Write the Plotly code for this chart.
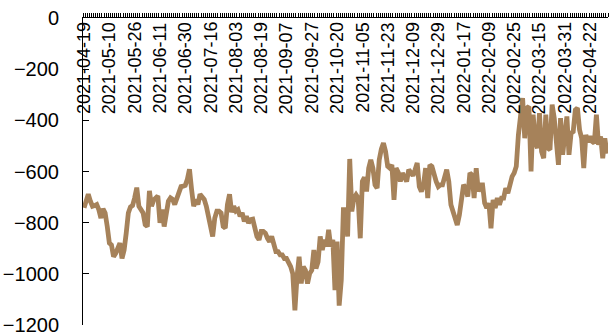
import pandas as pd
import plotly.graph_objects as go

# Trading calendar: weekdays minus exchange holidays and days without a quote
start_date = "2021-04-19"
end_date = "2022-05-09"
closed_days = [
    "2021-05-03", "2021-05-04", "2021-05-05", "2021-06-14",
    "2021-08-30", "2021-09-20", "2021-09-21",
    "2021-10-01", "2021-10-04", "2021-10-05", "2021-10-06", "2021-10-07",
    "2021-12-27", "2021-12-28", "2022-01-03",
    "2022-01-31", "2022-02-01", "2022-02-02", "2022-02-03", "2022-02-04",
    "2022-04-04", "2022-04-05", "2022-04-15", "2022-04-18",
    "2022-05-02", "2022-05-03", "2022-05-04",
]
dates = [d.strftime("%Y-%m-%d") for d in pd.bdate_range(start_date, end_date)
         if d.strftime("%Y-%m-%d") not in closed_days]

# Daily spread values
spread = [
    -742, -716, -689, -716, -736, -733, -729, -749, -782, -746,
    -762, -815, -880, -887, -933, -920, -900, -880, -940, -907,
    -841, -762, -739, -733, -703, -663, -736, -746, -762, -808,
    -815, -676, -736, -712, -703, -696, -801, -749, -815, -749,
    -716, -703, -709, -729, -703, -676, -659, -657, -654, -630,
    -591, -670, -736, -709, -729, -689, -703, -709, -736, -782,
    -808, -854, -782, -755, -755, -762, -815, -821, -729, -689,
    -759, -736, -755, -749, -775, -762, -795, -775, -801, -788,
    -786, -821, -854, -867, -834, -834, -841, -861, -874, -854,
    -880, -913, -913, -926, -926, -940, -940, -953, -972, -1000,
    -1143, -1012, -933, -1038, -972, -986, -1038, -999, -986, -907,
    -979, -953, -854, -907, -867, -893, -828, -893, -867, -1064,
    -874, -1124, -1025, -749, -749, -854, -551, -756, -704, -691,
    -704, -861, -639, -623, -678, -587, -554, -587, -652, -665,
    -554, -513, -489, -522, -580, -587, -574, -711, -587, -603,
    -639, -606, -626, -639, -593, -603, -616, -593, -567, -659,
    -678, -652, -587, -704, -574, -580, -616, -639, -659, -652,
    -652, -613, -593, -639, -730, -756, -783, -809, -770, -691,
    -652, -665, -698, -606, -613, -704, -587, -678, -652, -652,
    -724, -743, -724, -822, -711, -743, -704, -730, -704, -704,
    -665, -685, -646, -620, -606, -580, -457, -359, -313, -470,
    -352, -346, -600, -378, -483, -509, -372, -522, -548, -378,
    -509, -515, -339, -391, -502, -574, -391, -535, -457, -385,
    -535, -450, -444, -359, -352, -437, -470, -587, -457, -485,
    -463, -483, -489, -378, -496, -463, -548, -470, -530,
]
assert len(dates) == len(spread)

label_dates = dates[::12]
y_ticks = [0, -200, -400, -600, -800, -1000, -1200]

font_family = "Liberation Sans, Arial, sans-serif"

fig = go.Figure()
fig.add_trace(go.Scatter(
    x=dates, y=spread, mode="lines",
    line=dict(color="#A6825A", width=4.8),
    hoverinfo="skip",
))

for d in label_dates:
    fig.add_annotation(
        x=d, xref="x", y=1, yref="paper",
        text=d, textangle=-90, showarrow=False,
        xanchor="center", yanchor="top", yshift=-2,
        font=dict(family=font_family, size=18, color="black"),
    )

fig.update_layout(
    width=613, height=336,
    margin=dict(l=83, r=5, t=18, b=11),
    paper_bgcolor="white", plot_bgcolor="white",
    showlegend=False,
    xaxis=dict(
        type="category", side="top", automargin=False,
        range=[-0.5, len(dates) - 0.5],
        tickmode="array", tickvals=dates, tickson="boundaries",
        showticklabels=False,
        ticks="outside", ticklen=4, tickcolor="black", tickwidth=1,
        showline=True, linecolor="black", linewidth=1,
        showgrid=False, zeroline=False,
    ),
    yaxis=dict(
        range=[-1200, 0], automargin=False,
        tickmode="array", tickvals=y_ticks,
        ticks="inside", ticklen=6, tickcolor="black",
        showline=True, linecolor="black", linewidth=1,
        showgrid=False, zeroline=False,
        ticklabelstandoff=19,
        tickfont=dict(family=font_family, size=20, color="black"),
    ),
)

fig.write_html("out.html")
